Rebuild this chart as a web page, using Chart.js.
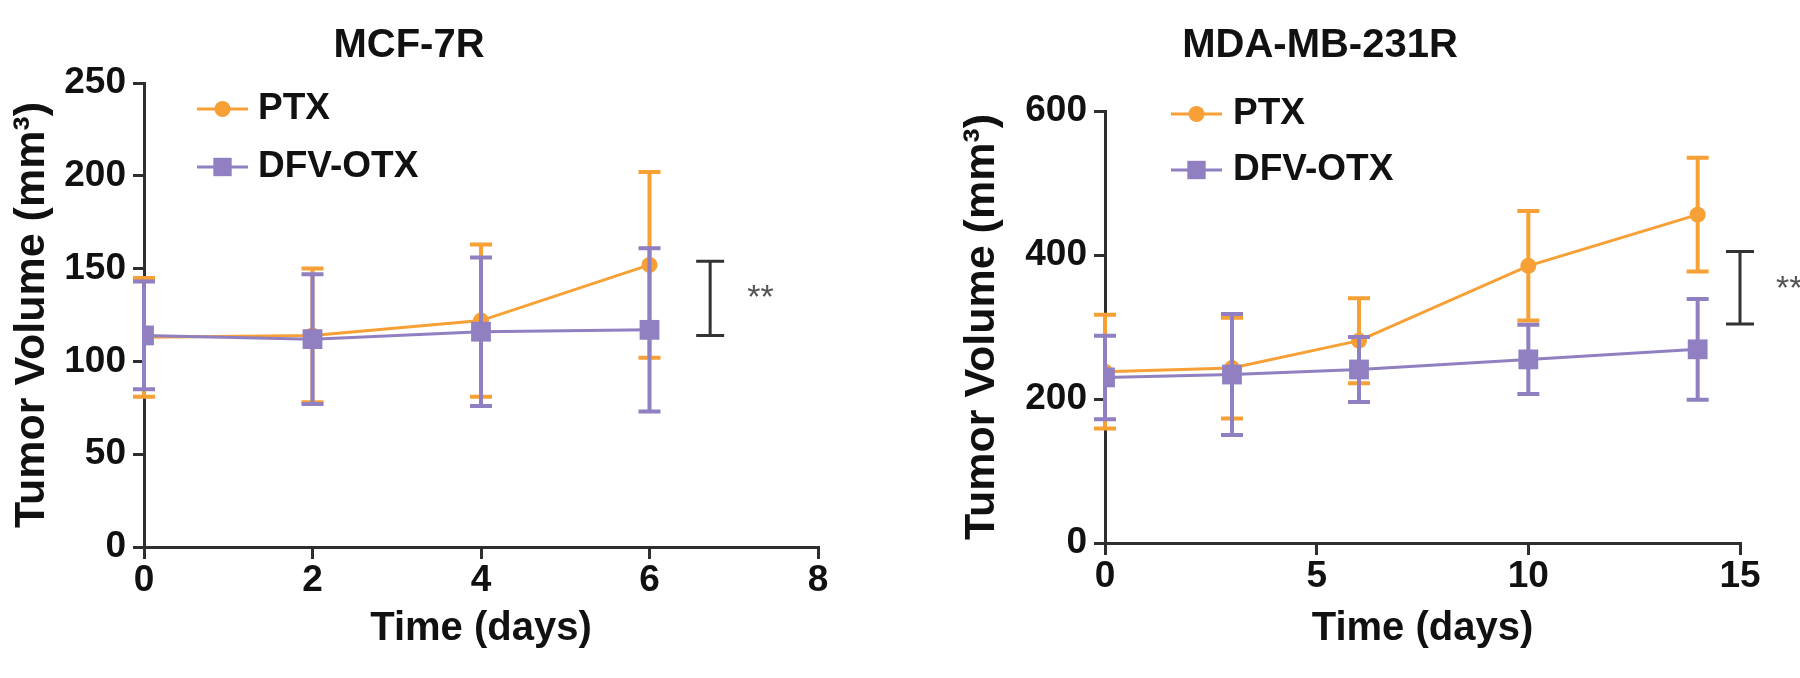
<!DOCTYPE html>
<html>
<head>
<meta charset="utf-8">
<script src="https://cdn.jsdelivr.net/npm/chart.js@4.4.0/dist/chart.umd.min.js"></script>
<style>
  html, body { margin: 0; padding: 0; background: #fff; }
  #wrap { width: 1800px; height: 678px; display: flex; }
  .box { width: 900px; height: 678px; }
</style>
</head>
<body>
<div id="wrap">
  <div class="box"><canvas id="chart-mcf" width="900" height="678"></canvas></div>
  <div class="box"><canvas id="chart-mda" width="900" height="678"></canvas></div>
</div>
<script>
// MCF-7R
var diasMcf = [0, 2, 4, 6];
var ptxMcf = [113, 114, 122, 152];
var ptxMcfErr = [32, 36, 41, 50];
var dfvMcf = [114, 112, 116, 117];
var dfvMcfErr = [29, 35, 40, 44];
var ticksXMcf = [0, 2, 4, 6, 8];
var ticksYMcf = [0, 50, 100, 150, 200, 250];
var sigMcf = [6.72, 154, 114];      // x, arriba, abajo
var sigMcfLabel = [7.16, 134, '**'];

// MDA-MB-231R
var diasMda = [0, 3, 6, 10, 14];
var ptxMda = [238, 243, 281, 385, 456];
var ptxMdaErr = [79, 70, 59, 76, 79];
var dfvMda = [230, 234, 241, 255, 269];
var dfvMdaErr = [58, 84, 45, 48, 70];
var ticksXMda = [0, 5, 10, 15];
var ticksYMda = [0, 200, 400, 600];
var sigMda = [15, 405, 304];
var sigMdaLabel = [15.85, 352, '**'];

var NARANJA = '#F6A035';
var MORADO = '#9080C2';
var EJE = '#2e2e2e';
var FUENTE = "'Liberation Sans', Arial, Helvetica, sans-serif";

function pares(xs, ys) {
  return xs.map(function (x, i) { return { x: x, y: ys[i] }; });
}

var barrasError = {
  id: 'barrasError',
  afterDatasetDraw: function (chart, args) {
    var ds = chart.data.datasets[args.index];
    if (!ds.err) return;
    var ys = chart.scales.y;
    var ctx = chart.ctx;
    ctx.save();
    ctx.strokeStyle = ds.borderColor;
    ctx.lineWidth = 4;
    args.meta.data.forEach(function (pt, i) {
      var v = ds.data[i].y, e = ds.err[i];
      var y1 = ys.getPixelForValue(v + e), y2 = ys.getPixelForValue(v - e);
      ctx.beginPath();
      ctx.moveTo(pt.x, y1); ctx.lineTo(pt.x, y2);
      ctx.moveTo(pt.x - 11, y1); ctx.lineTo(pt.x + 11, y1);
      ctx.moveTo(pt.x - 11, y2); ctx.lineTo(pt.x + 11, y2);
      ctx.stroke();
    });
    ctx.restore();
  }
};

var leyenda = {
  id: 'leyenda',
  afterDraw: function (chart, args, opts) {
    var ctx = chart.ctx, a = chart.chartArea;
    chart.data.datasets.forEach(function (ds, i) {
      var y = a.top + opts.y + i * opts.dy;
      var x0 = a.left + opts.x, x1 = x0 + opts.w;
      ctx.save();
      ctx.strokeStyle = ds.borderColor;
      ctx.lineWidth = 3;
      ctx.beginPath(); ctx.moveTo(x0, y); ctx.lineTo(x1, y); ctx.stroke();
      ctx.fillStyle = ds.borderColor;
      Chart.helpers.drawPoint(ctx, { pointStyle: ds.pointStyle, radius: ds.legendRadius, borderWidth: 0, rotation: 0 }, (x0 + x1) / 2, y);
      ctx.fillStyle = '#111';
      ctx.font = 'bold 37px ' + FUENTE;
      ctx.textBaseline = 'middle';
      ctx.fillText(ds.label, a.left + opts.tx, y);
      ctx.restore();
    });
  }
};

var significancia = {
  id: 'significancia',
  afterDraw: function (chart, args, opts) {
    var ctx = chart.ctx, xs = chart.scales.x, ys = chart.scales.y;
    var x = xs.getPixelForValue(opts.bracket[0]);
    var t = ys.getPixelForValue(opts.bracket[1]);
    var b = ys.getPixelForValue(opts.bracket[2]);
    ctx.save();
    ctx.strokeStyle = '#333';
    ctx.lineWidth = 3;
    ctx.beginPath();
    ctx.moveTo(x, t); ctx.lineTo(x, b);
    ctx.moveTo(x - 14, t); ctx.lineTo(x + 14, t);
    ctx.moveTo(x - 14, b); ctx.lineTo(x + 14, b);
    ctx.stroke();
    ctx.fillStyle = '#555';
    ctx.font = '34px ' + FUENTE;
    ctx.textBaseline = 'middle';
    ctx.fillText(opts.label[2], xs.getPixelForValue(opts.label[0]), ys.getPixelForValue(opts.label[1]));
    ctx.restore();
  }
};

function crearGrafico(id, c) {
  return new Chart(document.getElementById(id), {
    type: 'line',
    data: {
      datasets: [
        {
          label: 'PTX', data: pares(c.dias, c.ptx), err: c.ptxErr,
          borderColor: NARANJA, backgroundColor: NARANJA, pointBackgroundColor: NARANJA,
          borderWidth: 3, pointStyle: 'circle', pointRadius: 8, pointBorderWidth: 0,
          legendRadius: 8, order: 2
        },
        {
          label: 'DFV-OTX', data: pares(c.dias, c.dfv), err: c.dfvErr,
          borderColor: MORADO, backgroundColor: MORADO, pointBackgroundColor: MORADO,
          borderWidth: 3, pointStyle: 'rect', pointRadius: 14, pointBorderWidth: 0,
          legendRadius: 13, order: 1
        }
      ]
    },
    options: {
      responsive: false,
      animation: false,
      layout: { padding: { left: 0, right: c.padRight, top: 0, bottom: 0 } },
      plugins: {
        legend: { display: false },
        tooltip: { enabled: false },
        title: {
          display: true, text: c.titulo, color: '#111',
          font: { family: FUENTE, size: 40, weight: 'bold', lineHeight: 1.2 },
          padding: { top: 22, bottom: c.titlePadBottom }
        },
        leyenda: c.leyenda,
        significancia: { bracket: c.sig, label: c.sigLabel }
      },
      scales: {
        x: {
          type: 'linear',
          min: c.ticksX[0], max: c.ticksX[c.ticksX.length - 1],
          afterBuildTicks: function (s) { s.ticks = c.ticksX.map(function (v) { return { value: v }; }); },
          afterFit: function (s) { s.height = c.xHeight; },
          grid: { drawOnChartArea: false, drawTicks: true, tickLength: 12, color: EJE, lineWidth: 3 },
          border: { display: true, color: EJE, width: 3 },
          ticks: { color: '#111', padding: 0, font: { family: FUENTE, size: 37, weight: 'bold' } },
          title: {
            display: true, text: 'Time (days)', color: '#111',
            font: { family: FUENTE, size: 40, weight: 'bold', lineHeight: 1.2 },
            padding: { top: 0, bottom: 25 }
          }
        },
        y: {
          type: 'linear',
          min: c.ticksY[0], max: c.ticksY[c.ticksY.length - 1],
          afterBuildTicks: function (s) { s.ticks = c.ticksY.map(function (v) { return { value: v }; }); },
          afterFit: function (s) { s.width = c.yWidth; },
          grid: { drawOnChartArea: false, drawTicks: true, tickLength: 11, color: EJE, lineWidth: 3 },
          border: { display: true, color: EJE, width: 3 },
          ticks: { color: '#111', padding: 7, font: { family: FUENTE, size: 37, weight: 'bold' } },
          title: {
            display: true, text: 'Tumor Volume (mm³)', color: '#111',
            font: { family: FUENTE, size: 43, weight: 'bold', lineHeight: 1.2 },
            padding: { top: c.yTitlePad, bottom: 0 }
          }
        }
      }
    },
    plugins: [barrasError, leyenda, significancia]
  });
}

crearGrafico('chart-mcf', {
  titulo: 'MCF-7R', dias: diasMcf, ptx: ptxMcf, ptxErr: ptxMcfErr, dfv: dfvMcf, dfvErr: dfvMcfErr,
  ticksX: ticksXMcf, ticksY: ticksYMcf, sig: sigMcf, sigLabel: sigMcfLabel,
  padRight: 82, titlePadBottom: 13, xHeight: 131, yWidth: 144, yTitlePad: 6,
  leyenda: { x: 53, w: 51, y: 26, dy: 58, tx: 114 }
});

crearGrafico('chart-mda', {
  titulo: 'MDA-MB-231R', dias: diasMda, ptx: ptxMda, ptxErr: ptxMdaErr, dfv: dfvMda, dfvErr: dfvMdaErr,
  ticksX: ticksXMda, ticksY: ticksYMda, sig: sigMda, sigLabel: sigMdaLabel,
  padRight: 60, titlePadBottom: 41, xHeight: 135, yWidth: 205, yTitlePad: 56,
  leyenda: { x: 66, w: 51, y: 3, dy: 56, tx: 128 }
});
</script>
</body>
</html>
